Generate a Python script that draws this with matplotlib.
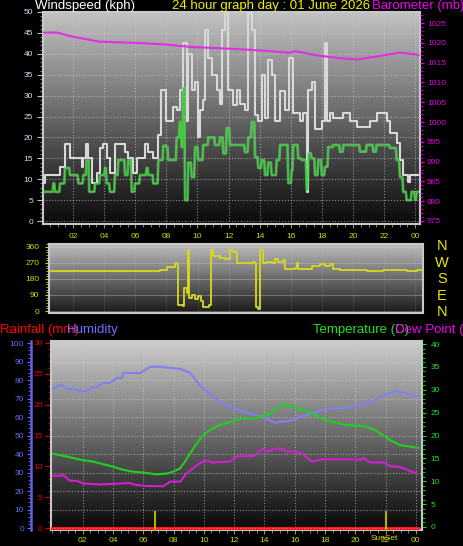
import numpy as np
import matplotlib
matplotlib.use("Agg")
import matplotlib.pyplot as plt
from matplotlib.ticker import MultipleLocator

plt.rcParams['font.family'] = ['Liberation Sans', 'DejaVu Sans']

# ---- data (hours since midnight) ----
gust_h = [0.08, 0.19, 1.16, 1.48, 1.80, 2.55, 2.66, 2.83, 2.98, 3.19, 3.52, 3.73, 3.94, 4.16, 4.37,
          4.69, 5.34, 5.55, 5.87, 6.09, 6.62, 6.84, 7.16, 7.45, 7.65, 7.95, 8.44, 8.66, 8.87, 9.09,
          9.30, 9.41, 9.63, 9.84, 10.01, 10.16, 10.37, 10.48, 10.70, 10.91, 11.23, 11.45, 11.55, 11.77,
          11.98, 12.30, 12.52, 12.73, 13.05, 13.27, 13.49, 13.70, 13.91, 14.13, 14.34, 14.55, 14.77,
          14.98, 15.31, 15.63, 15.90, 16.16, 16.59, 16.80, 17.02, 17.13, 17.34, 17.56, 17.99, 18.20,
          18.31, 18.52, 18.73, 19.38, 19.81, 20.24, 21.09, 21.52, 22.17, 22.38, 22.81, 23.02, 23.23,
          23.55, 23.67, 24.20]
gust_v = [9, 11, 13, 18.4, 15, 13, 15, 18.4, 15, 9, 11.5, 17.5, 18.4, 15, 11.5, 18.4, 16.6, 15, 11.5,
          15, 18.4, 16.6, 15, 20.5, 31.3, 24, 27.3, 26.5, 31.3, 42.5, 24, 40, 31.3, 33.3, 20, 26.5, 29,
          45.7, 39, 35, 31.3, 28, 45.7, 49.7, 31.3, 27.8, 31.3, 28, 26.5, 49.7, 45.7, 25.4, 24, 35, 24.6,
          38.5, 35, 24, 31, 26.5, 39, 25.8, 24, 25.8, 7, 31.3, 33.3, 22, 24, 42.5, 24, 25.8, 24.6, 25.8,
          24, 22.5, 24, 25.8, 24, 21, 18.6, 14.6, 11, 9.4, 11, 11]

avg_h = [0.08, 0.73, 0.84, 1.16, 1.48, 1.80, 2.34, 2.66, 2.87, 3.04, 3.41, 3.73, 4.05, 4.16, 4.37, 4.69,
         4.91, 5.34, 5.55, 5.77, 5.98, 6.30, 6.73, 6.84, 7.16, 7.48, 7.80, 8.00, 8.12, 8.66, 8.87, 8.98,
         9.09, 9.20, 9.41, 9.63, 9.84, 10.05, 10.37, 10.70, 11.13, 11.45, 11.66, 11.88, 12.09, 13.05,
         13.27, 13.49, 13.70, 13.91, 14.13, 14.34, 14.55, 14.77, 15.09, 15.31, 15.84, 16.06, 16.16,
         16.48, 16.70, 17.02, 17.13, 17.34, 17.56, 17.77, 17.99, 18.20, 18.41, 18.73, 19.16, 19.38,
         20.45, 20.88, 21.31, 21.52, 22.38, 22.81, 23.02, 23.23, 23.45, 23.77, 23.99, 24.10, 24.20]
avg_v = [7, 9, 7, 9, 12.7, 11, 9, 11, 14.6, 7, 9, 11, 12.7, 9, 7, 11, 14.6, 11, 14.6, 7, 9, 11, 12.7,
         11, 9, 14.6, 18, 17.7, 14.6, 20, 23.7, 17.7, 31.8, 5, 14, 10.5, 17.7, 14.6, 18.2, 20, 18.2, 20,
         16.2, 22.2, 18.2, 16.5, 20, 23.7, 15.3, 12.7, 14.6, 11, 14, 11, 14.6, 18.2, 9.1, 12.2, 18.2, 15,
         14.6, 7.4, 16.2, 15, 11, 14.6, 11, 13, 17.7, 18.2, 16.6, 18.2, 16.6, 18.2, 16.6, 18.2, 17.5,
         14.6, 10.5, 7, 5, 7, 5, 7, 7]

baro_h = [0.06, 1.0, 1.8, 3.7, 6.0, 7.9, 9.5, 12.7, 14.7, 15.9, 16.3, 17.6, 19.2, 20.3, 21.7, 23.0, 24.0, 24.2]
baro_v = [1022.6, 1022.6, 1021.7, 1020.3, 1020.0, 1019.6, 1019.0, 1018.4, 1017.9, 1017.5, 1017.9,
          1016.9, 1016.1, 1015.8, 1016.7, 1017.5, 1017.1, 1016.9]

dir_h = [0.56, 1.37, 1.80, 3.52, 5.02, 6.30, 6.73, 7.37, 7.59, 8.02, 8.55, 8.68, 8.72, 9.09, 9.15, 9.30,
         9.37, 9.47, 9.63, 9.84, 10.05, 10.22, 10.37, 10.70, 10.76, 10.87, 11.02, 11.45, 11.77, 12.09,
         12.30, 12.52, 13.59, 13.70, 13.74, 13.91, 14.02, 14.23, 14.45, 14.77, 14.98, 15.20, 15.52,
         15.63, 16.27, 16.38, 16.48, 17.34, 17.88, 18.20, 18.52, 18.73, 19.16, 20.88, 21.95, 23.45,
         24.10, 24.48]
dir_v = [226, 224, 226, 224, 226, 222, 226, 222, 230, 245, 270, 265, 34, 30, 127, 102, 343, 75, 90, 70,
         82, 55, 25, 25, 34, 343, 310, 300, 290, 345, 330, 272, 276, 272, 25, 10, 343, 268, 275, 268,
         290, 275, 288, 234, 240, 270, 234, 252, 262, 252, 265, 234, 230, 226, 230, 222, 230, 230]

hum_h = [0.04, 0.61, 0.94, 1.6, 1.82, 2.27, 2.6, 2.93, 3.34, 3.8, 4.25, 4.58, 4.68, 5.79, 6.45, 7.1,
         8.43, 9.09, 9.75, 10.41, 11.4, 12.72, 13.71, 14.7, 15.7, 16.36, 17.35, 18.34, 19.33, 20.33,
         21.3, 21.97, 22.76, 23.29, 24.15]
hum_v = [75.1, 77.7, 75, 75, 74, 74, 76, 76, 78.4, 78.4, 81, 81, 83.8, 83.8, 87.2, 87.2, 86, 84, 77,
         72, 66.5, 62.7, 60.5, 57, 58, 60, 62.7, 64.5, 65, 66.5, 69, 72, 74, 73, 71]

temp_h = [0.04, 0.94, 2.02, 2.68, 3.14, 4.0, 4.66, 5.32, 5.98, 6.9, 7.57, 7.97, 8.43, 8.76, 9.09, 9.55,
          9.95, 10.41, 11.07, 12.39, 13.38, 14.37, 15.23, 16.02, 17.01, 18.01, 19.33, 20.65, 21.31,
          21.64, 22.3, 22.96, 24.15]
temp_v = [16.0, 15.4, 14.6, 14.3, 13.9, 13.2, 12.5, 12.1, 11.9, 11.5, 11.7, 12.1, 12.8, 14.3, 16.1,
          18.3, 20.1, 21.2, 22.3, 23.6, 23.8, 24.7, 26.9, 26.2, 25.1, 23.4, 22.3, 22.0, 21.2, 20.5,
          19.0, 17.9, 17.3]

dew_h = [0.06, 0.61, 0.72, 1.16, 1.6, 2.04, 3.14, 5.13, 5.34, 6.0, 7.32, 7.77, 8.43, 8.87, 9.53, 10.08,
         10.63, 11.73, 12.17, 13.27, 13.93, 14.15, 14.59, 15.03, 15.48, 16.14, 16.47, 17.13, 17.79,
         19.88, 20.32, 20.54, 20.98, 21.86, 22.3, 22.96, 24.06]
dew_v = [11.2, 11.2, 11.4, 10.1, 10.1, 9.5, 9.3, 9.6, 9.3, 9.0, 8.9, 9.9, 9.9, 11.7, 13.5, 14.6, 14.1,
         14.3, 15.4, 15.5, 17.2, 16.4, 17.0, 17.2, 16.5, 16.5, 16.0, 14.3, 14.8, 14.8, 14.6, 15.1, 14.1,
         14.1, 13.3, 13.1, 11.7]

rain_h = [0.0, 24.15]
rain_v = [0, 0]

sun_times = [6.78, 22.03]
hour_ticks = list(range(2, 25, 2))
hour_labels = ["%02d" % (h % 24) for h in hour_ticks]

YEL = '#d8d800'
GRID = '#d0d0d0'


def gradient(ax, top, bottom):
    g = np.linspace(bottom, top, 256).reshape(-1, 1)
    ax.imshow(g, cmap='gray', vmin=0, vmax=1, aspect='auto', extent=[0, 1, 0, 1],
              transform=ax.transAxes, origin='lower', zorder=0, interpolation='bilinear')


def ramp(hs, vs, dt=0.05):
    # flat segments joined by short slopes
    xs, ys = [hs[0]], [vs[0]]
    for i in range(1, len(hs)):
        xs += [hs[i] - dt, hs[i]]
        ys += [vs[i - 1], vs[i]]
    return xs, ys


def frame(ax):
    for s in ax.spines.values():
        s.set_color('#c8c8c8')
        s.set_linewidth(1.5)


fig = plt.figure(figsize=(4.64, 5.46), dpi=100, facecolor='black')
W, H = 464.0, 546.0


def box(x0, y0, x1, y1):
    return [x0 / W, 1 - y1 / H, (x1 - x0) / W, (y1 - y0) / H]


# ---- top panel: wind + barometer ----
ax = fig.add_axes(box(43, 12, 420, 224))
gradient(ax, 0.76, 0.04)
ax.step(gust_h, gust_v, where='post', color='#d8d8d8', lw=1.5, zorder=3)
ax_x, ax_y = ramp(avg_h, avg_v)
ax.plot(ax_x, ax_y, color='#b0e8b0', lw=2.0, alpha=0.45, zorder=4)
ax.plot(ax_x, ax_y, color='#30d830', lw=1.0, zorder=5)
ax.set_xlim(0.064, 24.31)
ax.set_ylim(-0.7, 50)
ax.yaxis.set_major_locator(MultipleLocator(5))
ax.yaxis.set_minor_locator(MultipleLocator(1))
ax.xaxis.set_major_locator(MultipleLocator(2))
ax.xaxis.set_minor_locator(MultipleLocator(0.5))
ax.tick_params(axis='y', colors='#c0c0c0', labelcolor='#d0e0ff', labelsize=6, length=4, width=0.8, pad=3)
ax.tick_params(axis='y', which='minor', colors='#a0a0a0', length=2)
ax.tick_params(axis='x', colors='#909090', labelbottom=False, length=3)
ax.tick_params(axis='x', which='minor', colors='#909090', length=2)
ax.grid(True, color=GRID, ls=':', lw=0.8, alpha=0.6)
frame(ax)

axb = ax.twinx()
axb.plot(baro_h, baro_v, color='#e030e0', lw=1.5)
axb.set_ylim(974.24, 1027.8)
axb.yaxis.set_major_locator(MultipleLocator(5))
axb.yaxis.set_minor_locator(MultipleLocator(1))
axb.tick_params(axis='y', colors='#e000e0', labelsize=6, length=3, width=1, pad=2)
axb.tick_params(axis='y', which='minor', colors='#e000e0', length=2)
for s in axb.spines.values():
    s.set_visible(False)

fig.text(85 / W, 1 - 9 / H, "Windspeed (kph)", color='white', fontsize=9.5, ha='center', va='baseline')
fig.text(172 / W, 1 - 9 / H, "24 hour graph day : 01 June 2026", color='#f0f000', fontsize=9.5,
         ha='left', va='baseline')
fig.text(372 / W, 1 - 9 / H, "Barometer (mb)", color='#f000f0', fontsize=9.5, ha='left', va='baseline')

# ---- direction panel ----
ad = fig.add_axes(box(49, 244, 423, 313))
gradient(ad, 0.74, 0.1)
ad.step(dir_h, dir_v, where='post', color='#d8d820', lw=1.3, zorder=3)
ad.set_xlim(0.45, 24.5)
ad.set_ylim(-11, 376)
ad.set_yticks([0, 90, 180, 270, 360])
ad.yaxis.set_minor_locator(MultipleLocator(15))
ad.set_xticks(hour_ticks)
ad.set_xticklabels(hour_labels)
ad.xaxis.tick_top()
ad.tick_params(axis='x', colors=YEL, labelsize=6, length=0, pad=3)
ad.tick_params(axis='y', colors=YEL, labelsize=6, length=3, pad=4)
ad.tick_params(axis='y', which='minor', colors=YEL, length=2)
ad.grid(True, axis='y', color=GRID, ls='-', lw=0.7, alpha=0.35)
ad.grid(True, axis='x', color=GRID, ls=':', lw=0.7, alpha=0.3)
frame(ad)
for i, c in enumerate("NWSEN"):
    fig.text(442 / W, 1 - (246 + i * 16.6) / H, c, color='#e8e800', fontsize=10.5, ha='center', va='center')

# ---- bottom panel: rain / humidity / temperature ----
ar = fig.add_axes(box(51, 341, 422, 530))
gradient(ar, 0.8, 0.03)
ar.plot(rain_h, rain_v, color='#ff1010', lw=2.2, zorder=6, clip_on=False)
ar.set_xlim(-0.092, 24.41)
ar.set_ylim(-0.32, 30.32)
ar.yaxis.set_major_locator(MultipleLocator(5))
ar.yaxis.set_minor_locator(MultipleLocator(1))
ar.tick_params(axis='y', colors='#e00000', labelsize=6, length=4, pad=2)
ar.tick_params(axis='y', which='minor', colors='#e00000', length=2)
ar.set_xticks(hour_ticks)
ar.set_xticklabels(hour_labels)
ar.xaxis.set_minor_locator(MultipleLocator(0.5))
ar.tick_params(axis='x', colors='#909090', labelcolor=YEL, labelsize=6, length=3, pad=2)
ar.tick_params(axis='x', which='minor', colors='#909090', length=2)
ar.grid(True, axis='x', color=GRID, ls=':', lw=0.8, alpha=0.6)
frame(ar)

ah = ar.twinx()
ah.plot(hum_h, hum_v, color='#8080f0', lw=1.5, zorder=3)
ah.set_ylim(-1.08, 101.1)
ah.yaxis.set_ticks_position('left')
ah.spines['left'].set_position(('outward', 14.4))
ah.spines['left'].set_visible(True)
ah.spines['left'].set_color('#6060e0')
ah.spines['left'].set_linewidth(1.8)
for k in ('right', 'top', 'bottom'):
    ah.spines[k].set_visible(False)
ah.yaxis.set_major_locator(MultipleLocator(10))
ah.yaxis.set_minor_locator(MultipleLocator(2))
ah.tick_params(axis='y', colors='#6070ff', labelsize=6, length=3, pad=2)
ah.tick_params(axis='y', which='minor', colors='#6070ff', length=2)
ah.grid(True, axis='y', color=GRID, ls=':', lw=0.8, alpha=0.6)

at = ar.twinx()
at.plot(temp_h, temp_v, color='#20d020', lw=1.5, zorder=4)
at.plot(dew_h, dew_v, color='#d020d0', lw=1.5, zorder=4)
at.vlines(sun_times, -0.9, 3.6, color='#b0b000', lw=1.5, clip_on=False, zorder=5)
at.set_ylim(-0.66, 40.66)
at.yaxis.set_major_locator(MultipleLocator(5))
at.yaxis.set_minor_locator(MultipleLocator(1))
at.tick_params(axis='y', colors='#20e020', labelsize=6, length=3, pad=3)
at.tick_params(axis='y', which='minor', colors='#20e020', length=2)
for s in at.spines.values():
    s.set_visible(False)
at.text(sun_times[1] - 0.1, -1.75, "SunSet", color=YEL, fontsize=6, ha='center', va='top', clip_on=False)

fig.text(0, 1 - 333 / H, "Rainfall (mm)", color='#ff0000', fontsize=9.5, ha='left', va='baseline')
fig.text(67 / W, 1 - 333 / H, "Humidity", color='#7070ff', fontsize=9.5, ha='left', va='baseline')
fig.text(313 / W, 1 - 333 / H, "Temperature (C)", color='#20e020', fontsize=9.5, ha='left', va='baseline')
fig.text(395 / W, 1 - 333 / H, "Dew Point (C)", color='#f000f0', fontsize=9.5, ha='left', va='baseline')

fig.savefig("out.png", dpi=100, facecolor='black')
